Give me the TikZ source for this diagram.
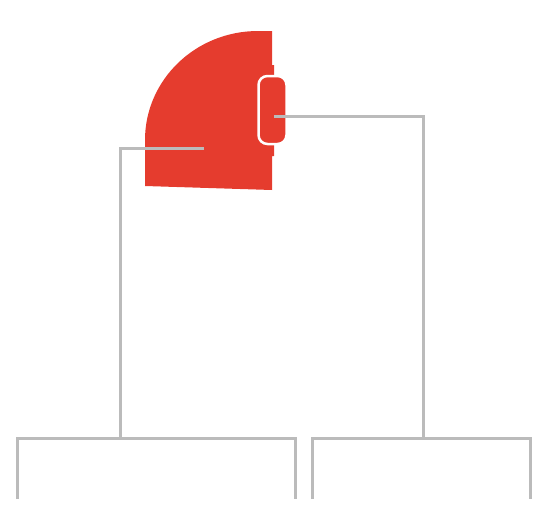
\documentclass[tikz,border=0pt]{standalone}
\definecolor{capred}{HTML}{E53C2E}
\definecolor{linegray}{HTML}{BBBBBB}
\tikzset{
  conn/.style={draw=linegray, line width=3pt},
  bracket/.style={draw=linegray, line width=3pt},
}
\begin{document}
\begin{tikzpicture}[x=1pt,y=-1pt]
\useasboundingbox (0,0) rectangle (550,520);
% red shape
\fill[capred] (272,31) -- (258,31) arc[start angle=-90, end angle=-180, x radius=113, y radius=109] -- (145,186) -- (272,190) -- (272,156) -- (274,156) -- (274,65) -- (272,65) -- cycle;
\node[draw=white, line width=2.5pt, fill=capred, rounded corners=9pt, minimum width=28pt, minimum height=68pt, inner sep=0pt] (btn) at (272.5,110) {};
% anchor coordinates
\coordinate (capIn) at (204,148);
\coordinate (btnIn) at (274,116);
\coordinate (leftTop) at (120,438);
\coordinate (rightTop) at (423,438);
% connectors
\draw[conn] (capIn) -- (120,148) -- (leftTop);
\draw[conn] (btnIn) -- (423,116) -- (rightTop);
% brackets
\draw[bracket] (17,499) -- (17,438) -- (295,438) -- (295,499);
\draw[bracket] (312,499) -- (312,438) -- (530,438) -- (530,499);
\end{tikzpicture}
\end{document}
